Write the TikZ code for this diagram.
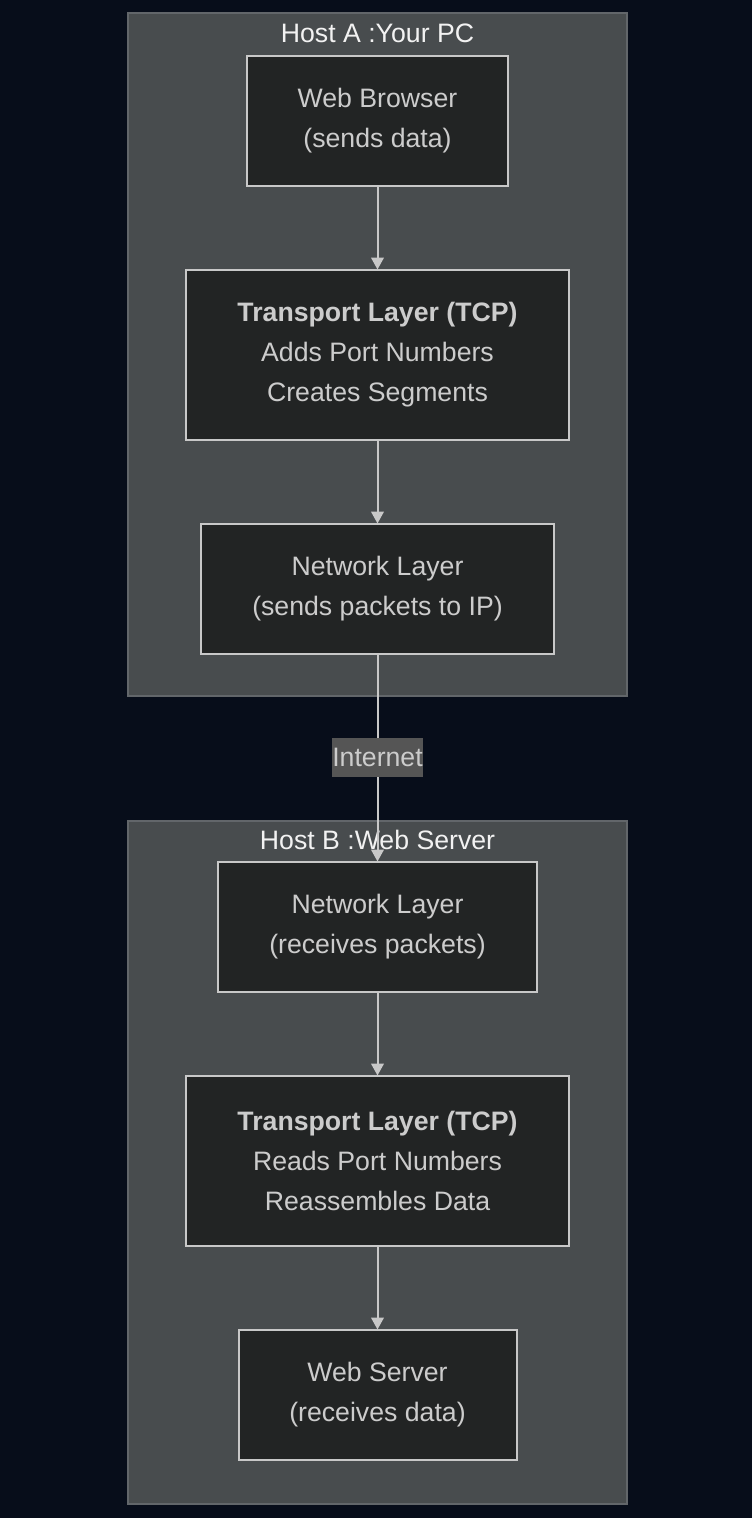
\documentclass[tikz,border=0pt]{standalone}
\usepackage{fontspec}
\setmainfont{Liberation Sans}
\usetikzlibrary{positioning,arrows.meta}
\definecolor{pagebg}{HTML}{070D1A}
\definecolor{clusterbg}{HTML}{484C4E}
\definecolor{clusterline}{HTML}{62666A}
\definecolor{boxbg}{HTML}{222424}
\definecolor{boxline}{HTML}{C8C8C8}
\definecolor{boxtext}{HTML}{CCCCCC}
\definecolor{edgelbl}{HTML}{555555}
\begin{document}
\begin{tikzpicture}[x=0.75pt, y=-0.75pt, node distance = 63pt,
		cluster/.style={draw=clusterline, fill=clusterbg, line width=1pt, minimum width=374.25pt, minimum height=512.25pt},
		title/.style={text=white!95!black, font=\fontsize{20}{24}\selectfont},
		layer/.style={draw=boxline, fill=boxbg, line width=1.5pt, text=boxtext, align=center, inner sep=0pt, outer sep=0pt, font=\fontsize{20}{30}\selectfont},
		twoline/.style={layer, minimum height=97.5pt},
		threeline/.style={layer, minimum height=127.5pt},
		flow/.style={draw=boxline, line width=1.5pt, -{Triangle[width=9.5pt,length=9pt]}},
		wire/.style={fill=edgelbl, text=boxtext, inner sep=0pt, minimum height=29pt, font=\fontsize{20}{24}\selectfont}]
		\fill[pagebg] (0,0) rectangle (752,1518);
		\useasboundingbox (0,0) rectangle (752,1518);
		
		\node [cluster] (hostA) at (377.5,354.5) {};
		\node [cluster] (hostB) at (377.5,1162.5) {};
		\node [title] (titleA) at (377.5,33) {Host A :Your PC};
		\node [title] (titleB) at (377.5,840) {Host B :Web Server};
		
		\node [twoline, minimum width=195.75pt] (browser) at (377.5,120.5) {Web Browser\\(sends data)};
		\node [threeline, minimum width=287.25pt, below=of browser] (tcpA) {\textbf{Transport Layer (TCP)}\\Adds Port Numbers\\Creates Segments};
		\node [twoline, minimum width=264.75pt, below=of tcpA] (ipA) {Network Layer\\(sends packets to IP)};
		\node [twoline, minimum width=239.25pt, below=156pt of ipA] (ipB) {Network Layer\\(receives packets)};
		\node [threeline, minimum width=287.25pt, below=of ipB] (tcpB) {\textbf{Transport Layer (TCP)}\\Reads Port Numbers\\Reassembles Data};
		\node [twoline, minimum width=208.5pt, below=of tcpB] (server) {Web Server\\(receives data)};
		
		\draw[flow]
		(browser) -- (tcpA);
		\draw[flow]
		(tcpA) -- (ipA);
		\draw[flow]
		(ipA) -- node [wire] (net) {Internet} (ipB);
		\draw[flow]
		(ipB) -- (tcpB);
		\draw[flow]
		(tcpB) -- (server);
		
		\end{tikzpicture}
\end{document}
